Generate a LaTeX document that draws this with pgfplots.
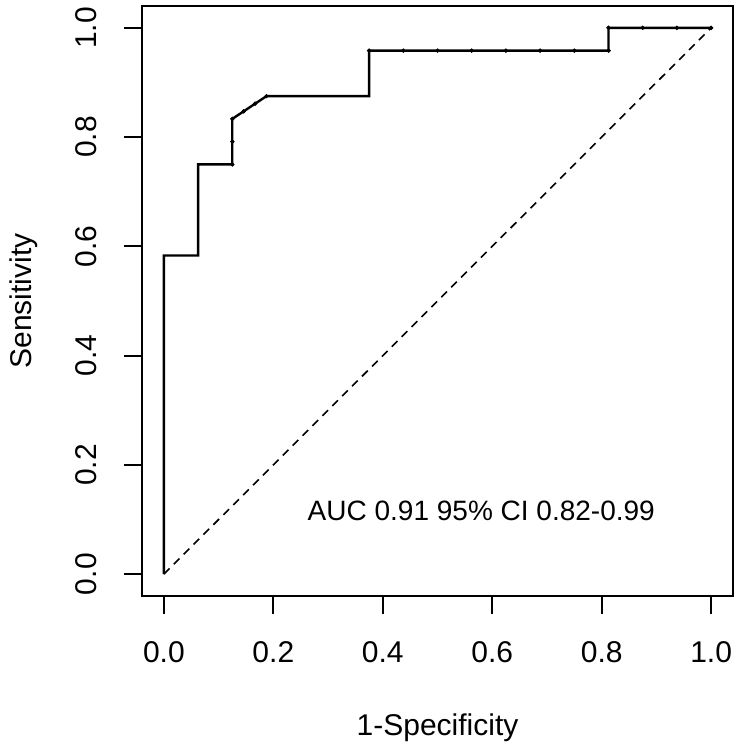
\documentclass[border=0pt]{standalone}
\usepackage{pgfplots}
\pgfplotsset{compat=1.18}
\usepackage{fontspec}
\setmainfont{Liberation Sans}

% ROC curve points (1-specificity, sensitivity)
\pgfplotstableread{
fpr tpr
0 0
0 0.5833
0.0625 0.5833
0.0625 0.75
0.125 0.75
0.125 0.7917
0.125 0.8333
0.1875 0.875
0.375 0.875
0.375 0.9583
0.4375 0.9583
0.5 0.9583
0.5625 0.9583
0.625 0.9583
0.6875 0.9583
0.75 0.9583
0.8125 0.9583
0.8125 1
0.875 1
0.9375 1
1 1
}\roc

\pgfplotstableread{
fpr tpr
0.125 0.75
0.125 0.7917
0.125 0.8333
0.1458 0.8472
0.1667 0.8611
0.1875 0.875
0.375 0.9583
0.4375 0.9583
0.5 0.9583
0.5625 0.9583
0.625 0.9583
0.6875 0.9583
0.75 0.9583
0.8125 0.9583
0.8125 1
0.875 1
0.9375 1
1 1
}\rocpts

\begin{document}
\begin{tikzpicture}
\useasboundingbox (-71pt,-75.5pt) rectangle (299pt,298pt);
\begin{axis}[
    at={(0,0)}, anchor=south west,
    scale only axis,
    width=295.5pt, height=295pt,
    xmin=-0.04, xmax=1.04, ymin=-0.04, ymax=1.04,
    xtick={0,0.2,0.4,0.6,0.8,1},
    ytick={0,0.2,0.4,0.6,0.8,1},
    xtick pos=bottom, ytick pos=left,
    tick align=outside,
    major tick length=9pt,
    tick style={line width=1pt, black},
    axis line style={line width=1pt},
    /pgf/number format/assume math mode=true,
    /pgf/number format/fixed,
    /pgf/number format/fixed zerofill,
    /pgf/number format/precision=1,
    tick label style={font=\fontsize{15}{18}\selectfont},
    xticklabel style={anchor=center},
    xticklabel shift=19pt,
    yticklabel style={rotate=90, anchor=center},
    yticklabel shift=19pt,
    xlabel={1-Specificity},
    ylabel={Sensitivity},
    label style={font=\fontsize{15}{18}\selectfont},
    xlabel style={at={([yshift=-69.5pt]axis description cs:0.5,0)}, anchor=base},
    ylabel style={at={([xshift=-55pt]axis description cs:0,0.5)}, anchor=base, rotate=0},
    clip=false,
]
\addplot[black, line width=0.8pt, dash pattern=on 4pt off 3pt] coordinates {(0,0) (1,1)};
\addplot[black, line width=1.2pt] table[x=fpr, y=tpr] {\roc};
\addplot[black, only marks, mark=*, mark size=0.9pt] table[x=fpr, y=tpr] {\rocpts};
\node[anchor=base, font=\fontsize{14}{17}\selectfont] at (axis cs:0.58,0.099) {AUC 0.91 95\% CI 0.82-0.99};
\end{axis}
\end{tikzpicture}
\end{document}
